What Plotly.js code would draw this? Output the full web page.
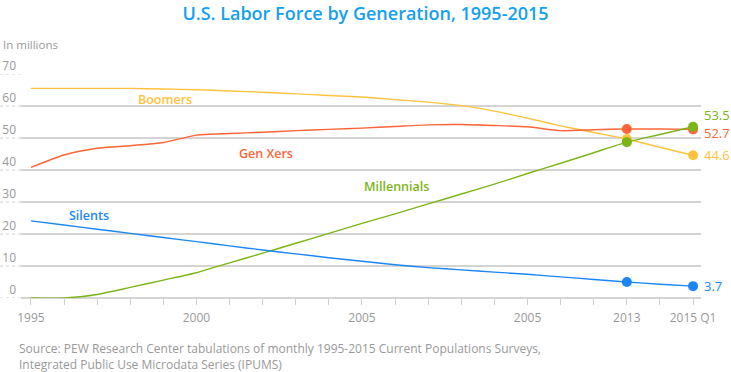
<!DOCTYPE html>
<html>
<head>
<meta charset="utf-8">
<script src="https://cdn.plot.ly/plotly-3.0.1.min.js"></script>
<style>html,body{margin:0;padding:0;background:#fff;}#chart{width:731px;height:372px;}</style>
</head>
<body>
<div id="chart"></div>
<script>
// Data
const years = [1995,1996,1997,1998,1999,2000,2001,2002,2003,2004,2005,2006,2007,2008,2009,2010,2011,2012,2013,2014,2015];
const boomers = [65.5,65.5,65.5,65.5,65.3,65.1,64.7,64.3,63.8,63.3,62.8,62.0,61.2,60.1,58.4,56.2,53.8,51.7,49.7,47.1,44.6];
const genXers = [40.8,44.7,46.8,47.6,48.6,50.9,51.4,51.8,52.3,52.7,53.1,53.6,54.1,54.2,53.9,53.5,52.3,52.6,52.8,52.8,52.7];
const millennials = [0,0,1.1,3.3,5.6,7.9,11.0,14.0,17.1,20.2,23.3,26.3,29.4,32.5,35.6,38.9,42.1,45.4,48.7,51.1,53.5];
const silents = [24.1,22.8,21.5,20.2,18.9,17.6,16.3,15.0,13.8,12.6,11.5,10.4,9.5,8.8,8.1,7.4,6.6,5.8,5.0,4.3,3.7];
const markerYears = [2013, 2015];
const xTickVals = [1995,2000,2005,2010,2013,2015];
const xTickText = ["1995","2000","2005","2005","2013","2015 Q1"];
const yTickVals = [0,10,20,30,40,50,60,70];
const seriesNames = ["Boomers","Gen Xers","Millennials","Silents"];

const colors = {Boomers:"#ffc23c", "Gen Xers":"#fc6537", Millennials:"#7cb518", Silents:"#1a87f5"};
const seriesData = {Boomers:boomers, "Gen Xers":genXers, Millennials:millennials, Silents:silents};

const traces = [];
seriesNames.forEach(name => {
  const ys = seriesData[name];
  traces.push({x: years, y: ys, type:'scatter', mode:'lines', line:{color:colors[name], width:1.4, shape:'spline', smoothing:0.6}, hoverinfo:'skip', cliponaxis:false});
  const mx = markerYears, my = markerYears.map(yr => ys[years.indexOf(yr)]);
  traces.push({x: mx, y: my, type:'scatter', mode:'markers', marker:{color:colors[name], size:10}, hoverinfo:'skip', cliponaxis:false});
});

const font = "Open Sans, Noto Sans, sans-serif";
const annotations = [
  {x:1999.05, y:61.9, text:"Boomers", color:colors.Boomers},
  {x:2002.1, y:45.3, text:"Gen Xers", color:colors["Gen Xers"]},
  {x:2006.05, y:35.0, text:"Millennials", color:colors.Millennials},
  {x:1996.75, y:25.9, text:"Silents", color:colors.Silents}
].map(a => ({x:a.x, y:a.y, xref:'x', yref:'y', text:a.text, showarrow:false, font:{family:font, size:12.5, color:a.color, weight:600}, xanchor:'center', yanchor:'middle'}));

// end value labels
const endLabels = [
  {name:"Millennials", yshift:12},
  {name:"Gen Xers", yshift:-4},
  {name:"Boomers", yshift:0},
  {name:"Silents", yshift:0}
];
endLabels.forEach(e => {
  const v = seriesData[e.name][years.indexOf(2015)];
  annotations.push({x:2015, y:v, xref:'x', yref:'y', text:String(v), showarrow:false, xanchor:'left', yanchor:'middle', xshift:9, yshift:e.yshift, font:{family:font, size:13, color:colors[e.name]}});
});

// Texts outside the plot, positioned in page pixels then converted to paper fractions
const plotL = 21, plotT = 74, plotW = 731-21-30, plotH = 372-74-74;
function pageToPaper(px, py) { return {x:(px-plotL)/plotW, y:1-(py-plotT)/plotH}; }
const im = pageToPaper(1, 45);
annotations.push({x:im.x, y:im.y, xref:'paper', yref:'paper', text:"In millions", showarrow:false, xanchor:'left', yanchor:'middle', font:{family:font, size:11.5, color:'#999'}});
const src = pageToPaper(17, 356);
annotations.push({x:src.x, y:src.y, xref:'paper', yref:'paper', text:"Source: PEW Research Center tabulations of monthly 1995-2015 Current Populations Surveys,<br>Integrated Public Use Microdata Series (IPUMS)", showarrow:false, xanchor:'left', yanchor:'middle', align:'left', font:{family:font, size:12, color:'#999'}});

const shapes = yTickVals.map(v => ({type:'line', xref:'paper', yref:'y', x0:-21/plotW, x1:0, y0:v, y1:v, line:{color:'#cfcfcf', width:1, dash:'dot'}, layer:'below'}));

const layout = {
  width:731, height:372,
  margin:{l:21, r:30, t:74, b:74},
  paper_bgcolor:'#fff', plot_bgcolor:'#fff',
  showlegend:false,
  title:{text:"U.S. Labor Force by Generation, 1995-2015", x:0.5, xref:'container', y:1-14/372, yref:'container', yanchor:'middle', font:{family:font, size:18, color:'#14a0ee', weight:600}},
  font:{family:font, color:'#999'},
  xaxis:{range:[1994.7, 2015.24], tickvals:xTickVals, ticktext:xTickText, showgrid:false, zeroline:false, showline:false,
    ticks:'outside', ticklen:6, tickcolor:'#cfcfcf', ticklabelstandoff:3, tickfont:{family:font, size:12, color:'#999'},
    minor:{dtick:1, tick0:1995, ticks:'outside', ticklen:6, tickcolor:'#cfcfcf', showgrid:false}},
  yaxis:{range:[0,70], tickvals:yTickVals, showgrid:true, gridcolor:'#d4d4d4', gridwidth:1.3, zeroline:true, zerolinecolor:'#d4d4d4', zerolinewidth:1.3, showline:false,
    ticks:'', ticklabelposition:'outside top', ticklabelstandoff:4, tickfont:{family:font, size:12, color:'#999'}},
  annotations:annotations,
  shapes:shapes
};

Plotly.newPlot('chart', traces, layout, {staticPlot:true});
</script>
</body>
</html>
